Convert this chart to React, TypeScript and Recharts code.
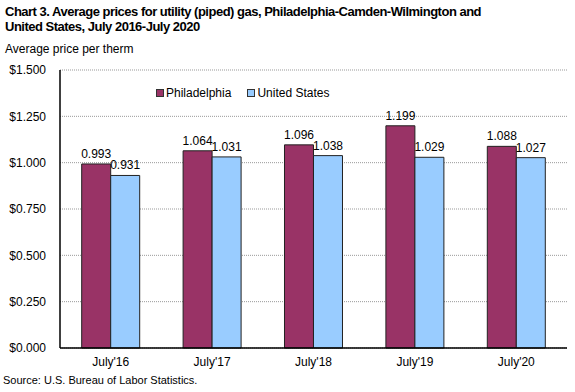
import { BarChart, Bar, XAxis, YAxis, CartesianGrid, LabelList } from 'recharts';

const categories = ["July'16", "July'17", "July'18", "July'19", "July'20"];
const philadelphia = [0.993, 1.064, 1.096, 1.199, 1.088];
const unitedStates = [0.931, 1.031, 1.038, 1.029, 1.027];
const yTicks = [0, 0.25, 0.5, 0.75, 1.0, 1.25, 1.5];

const PHILLY = '#993366';
const US = '#99ccff';
const FONT = 'Arial, "Liberation Sans", sans-serif';

const data = categories.map((label, i) => ({
  label,
  philadelphia: philadelphia[i],
  unitedStates: unitedStates[i],
}));

const legendItems = [
  { name: 'Philadelphia', color: PHILLY },
  { name: 'United States', color: US },
];

export default function App() {
  const labelStyle = { fill: '#000', fontSize: 12, fontFamily: FONT };
  return (
    <div style={{ position: 'absolute', left: 0, top: 0, width: 575, height: 392, background: '#fff', fontFamily: FONT }}>
      <div style={{ position: 'absolute', left: 0, top: 0 }}>
        <BarChart
          width={575}
          height={392}
          data={data}
          margin={{ top: 70, right: 8, left: 0, bottom: 14 }}
          barCategoryGap="21.4%"
          barGap={0}
        >
          <CartesianGrid horizontal vertical={false} stroke="#999" strokeDasharray="1 1" />
          <XAxis
            dataKey="label"
            height={30}
            axisLine={{ stroke: '#000', strokeWidth: 1.5 }}
            tickLine={false}
            tick={labelStyle}
            tickMargin={3}
          />
          <YAxis
            width={60}
            domain={[0, 1.5]}
            ticks={yTicks}
            interval={0}
            axisLine={{ stroke: '#000', strokeWidth: 1.5 }}
            tickLine={false}
            tick={labelStyle}
            tickMargin={8}
            tickFormatter={(v: number) => '$' + v.toFixed(3)}
          />
          <YAxis
            yAxisId="right"
            orientation="right"
            width={0}
            tick={false}
            tickLine={false}
            axisLine={{ stroke: '#999' }}
          />
          <Bar dataKey="philadelphia" name="Philadelphia" fill={PHILLY} stroke="#222" strokeWidth={1} isAnimationActive={false}>
            <LabelList dataKey="philadelphia" position="top" offset={6} formatter={(v: number) => v.toFixed(3)} style={labelStyle} />
          </Bar>
          <Bar dataKey="unitedStates" name="United States" fill={US} stroke="#222" strokeWidth={1} isAnimationActive={false}>
            <LabelList dataKey="unitedStates" position="top" offset={6} formatter={(v: number) => v.toFixed(3)} style={labelStyle} />
          </Bar>
        </BarChart>
      </div>
      <div style={{ position: 'absolute', left: 5, top: 4, fontSize: 13, fontWeight: 'bold', lineHeight: '15px', letterSpacing: -0.5 }}>
        Chart 3. Average prices for utility (piped) gas, Philadelphia-Camden-Wilmington and
        <br />
        United States, July 2016-July 2020
      </div>
      <div style={{ position: 'absolute', left: 5, top: 42, fontSize: 12 }}>Average price per therm</div>
      <div style={{ position: 'absolute', left: 3, top: 374, fontSize: 11 }}>Source: U.S. Bureau of Labor Statistics.</div>
      <div style={{ position: 'absolute', left: 156, top: 86, display: 'flex', gap: 16, fontSize: 12 }}>
        {legendItems.map((it) => (
          <div key={it.name} style={{ display: 'flex', alignItems: 'center' }}>
            <span
              style={{
                display: 'inline-block',
                width: 6,
                height: 6,
                background: it.color,
                border: '1px solid #333',
                marginRight: 2,
              }}
            />
            {it.name}
          </div>
        ))}
      </div>
    </div>
  );
}
